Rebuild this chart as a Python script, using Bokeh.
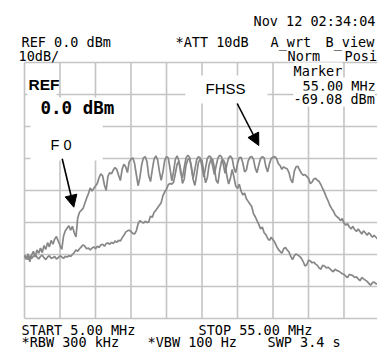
import numpy as np
from bokeh.plotting import figure
from bokeh.models import Range1d, Label, Arrow, NormalHead, BoxAnnotation
from bokeh.embed import file_html
from bokeh.resources import INLINE

# ---------------- data ----------------
freq_start_mhz = 5.0
freq_stop_mhz = 55.0
ref_level_dbm = 0.0
bottom_level_dbm = -80.0
freq_ticks = [5, 10, 15, 20, 25, 30, 35, 40, 45, 50, 55]
level_ticks = [-80, -70, -60, -50, -40, -30, -20, -10, 0]

# sweep points every 0.25 MHz (5.00 ... 55.00)
freq_mhz = np.linspace(freq_start_mhz, freq_stop_mhz, 201)

# wide trace (FHSS)
trace_a_dbm = [
    -60.5, -61.5, -59.8, -62.3, -60.2, -59.0, -60.8, -58.6,
    -59.6, -58.0, -59.4, -57.2, -58.4, -56.3, -57.6, -55.6,
    -56.8, -55.2, -54.4, -55.8, -57.2, -58.4, -54.2, -52.6,
    -51.8, -51.0, -52.4, -51.2, -53.2, -54.5, -48.5, -46.8,
    -46.2, -45.6, -44.0, -42.4, -41.0, -39.2, -40.2, -39.4,
    -38.6, -37.8, -36.0, -34.8, -35.4, -38.2, -40.0, -35.6,
    -34.4, -34.8, -33.6, -32.8, -33.4, -35.2, -36.9, -33.4,
    -31.8, -32.6, -34.4, -31.0, -30.2, -29.8, -31.5, -35.0,
    -38.5, -36.0, -32.0, -29.8, -29.4, -31.0, -35.5, -37.2,
    -33.5, -30.2, -29.2, -30.4, -34.0, -36.8, -34.2, -30.6,
    -29.4, -29.8, -33.2, -37.0, -34.0, -30.2, -29.2, -30.8,
    -34.6, -36.0, -32.8, -29.8, -29.0, -29.6, -33.0, -36.2,
    -33.4, -30.4, -29.4, -29.8, -32.6, -35.8, -33.0, -30.0,
    -29.2, -29.6, -32.4, -35.0, -32.2, -29.8, -29.0, -29.4,
    -31.8, -34.6, -32.0, -29.8, -29.2, -30.0, -33.0, -34.4,
    -31.6, -29.8, -29.6, -31.4, -34.2, -33.6, -30.8, -29.6,
    -29.4, -30.2, -33.0, -34.4, -32.0, -30.0, -29.4, -29.8,
    -32.6, -34.2, -31.6, -30.0, -29.6, -29.4, -30.0, -31.6,
    -32.2, -33.4, -32.6, -33.0, -33.2, -34.4, -36.6, -37.6,
    -34.0, -32.6, -32.4, -33.6, -34.6, -35.2, -35.0, -35.6,
    -36.2, -37.8, -37.4, -36.4, -36.2, -36.8, -37.2, -38.2,
    -39.4, -40.6, -42.0, -43.2, -44.6, -45.6, -46.4, -47.6,
    -48.2, -48.6, -49.4, -48.8, -50.2, -50.8, -50.4, -51.4,
    -52.0, -51.2, -52.2, -52.8, -52.0, -52.8, -53.6, -52.6,
    -53.2, -54.0, -53.2, -53.8, -54.6, -54.0, -54.6, -55.2,
    -54.6,
]

# narrow trace (F 0)
trace_b_dbm = [
    -60.2, -60.8, -61.6, -60.4, -61.2, -60.6, -60.0, -60.8,
    -61.4, -60.6, -60.2, -61.0, -61.6, -60.8, -60.4, -61.2,
    -61.0, -60.6, -61.4, -61.0, -60.4, -60.8, -61.2, -60.6,
    -60.8, -60.4, -60.6, -60.0, -59.4, -58.6, -59.0, -58.2,
    -57.6, -57.0, -57.4, -58.2, -58.0, -58.6, -58.0, -57.6,
    -58.2, -57.4, -57.8, -57.0, -56.8, -57.4, -56.6, -56.4,
    -56.8, -56.2, -56.6, -55.8, -56.2, -55.6, -55.8, -54.8,
    -54.0, -53.0, -52.6, -52.4, -52.8, -53.4, -53.6, -52.6,
    -50.4, -49.4, -49.8, -50.2, -49.6, -50.0, -49.8, -48.0,
    -48.4, -46.8, -46.2, -45.4, -44.6, -43.8, -41.6, -40.4,
    -39.6, -38.2, -37.8, -38.0, -37.4, -34.6, -31.8, -30.8,
    -33.6, -37.8, -36.4, -32.0, -30.4, -30.0, -32.4, -36.6,
    -38.4, -35.0, -31.2, -30.2, -30.6, -34.2, -37.6, -36.0,
    -32.0, -30.4, -30.2, -33.0, -36.8, -37.8, -33.6, -30.8,
    -30.4, -31.6, -35.4, -38.0, -36.2, -33.4, -35.8, -38.6,
    -39.4, -38.0, -40.2, -41.4, -40.8, -42.6, -43.4, -44.2,
    -45.0, -47.2, -48.2, -49.4, -50.6, -52.0, -51.4, -53.2,
    -53.8, -55.0, -55.6, -54.6, -55.4, -56.2, -57.4, -58.4,
    -59.0, -59.6, -58.2, -57.8, -58.6, -59.2, -60.6, -61.6,
    -60.4, -59.8, -60.2, -60.6, -61.2, -62.2, -63.6, -63.2,
    -61.8, -62.0, -62.6, -62.4, -63.0, -63.4, -64.2, -64.6,
    -63.4, -63.6, -64.2, -64.0, -64.4, -65.0, -65.4, -64.6,
    -65.0, -65.2, -65.6, -66.0, -66.2, -66.8, -67.2, -66.2,
    -66.4, -66.6, -67.2, -67.0, -67.6, -68.2, -67.2, -67.6,
    -68.0, -68.4, -69.0, -69.6, -68.8, -68.6, -69.2, -69.0,
    -69.1,
]

# ---------------- layout (pixels) ----------------
W, H = 377, 351
GRID_LEFT, GRID_TOP = 24, 62
GRID_H = 256
PX_PER_MHZ = 7.1
PX_PER_DB = GRID_H / (ref_level_dbm - bottom_level_dbm)


def dx(px):
    return freq_start_mhz + (px - GRID_LEFT) / PX_PER_MHZ


def dy(py):
    return ref_level_dbm - (py - GRID_TOP) / PX_PER_DB


# the frame fills the whole canvas so that no annotation is clipped
p = figure(width=W, height=H, title=None,
           x_range=Range1d(dx(0), dx(W)),
           y_range=Range1d(dy(H), dy(0)),
           x_axis_location=None, y_axis_location=None,
           output_backend="svg", toolbar_location=None,
           min_border=0, min_border_left=0, min_border_right=0,
           min_border_top=0, min_border_bottom=0)
p.background_fill_color = "white"
p.border_fill_color = "white"
p.outline_line_color = None
p.xgrid.visible = False
p.ygrid.visible = False

GRID = "#c4c4c4"
# graticule drawn from the tick lists
p.segment(x0=freq_ticks, y0=[bottom_level_dbm] * len(freq_ticks),
          x1=freq_ticks, y1=[ref_level_dbm] * len(freq_ticks),
          line_color=GRID, line_width=1.6)
p.segment(x0=[freq_start_mhz] * len(level_ticks), y0=level_ticks,
          x1=[freq_stop_mhz] * len(level_ticks), y1=level_ticks,
          line_color=GRID, line_width=1.6)

TRACE = "#878787"
p.line(freq_mhz, trace_b_dbm, line_color=TRACE, line_width=1.7)
p.line(freq_mhz, trace_a_dbm, line_color=TRACE, line_width=1.7)

# white boxes that hide the graticule behind on-screen annotations
for (l, r, t, b) in [(27, 56, 72, 96), (30, 102, 97, 160), (185, 267, 75, 103)]:
    p.add_layout(BoxAnnotation(left=dx(l), right=dx(r), top=dy(t), bottom=dy(b),
                               fill_color="white", fill_alpha=1.0, line_color=None))

MONO = "DejaVu Sans Mono"
SANS = "Liberation Sans"
# (text, left px, baseline px, font, size px, style, white background)
texts = [
    ("Nov 12 02:34:04", 253, 25, MONO, 13.5, "normal", False),
    ("REF 0.0 dBm", 21, 46, MONO, 13.5, "normal", False),
    ("*ATT 10dB", 175, 46, MONO, 13.5, "normal", False),
    ("A_wrt", 270, 46, MONO, 13.5, "normal", False),
    ("B_view", 325, 46, MONO, 13.5, "normal", False),
    ("10dB/", 18, 60, MONO, 13.5, "normal", False),
    ("Norm", 287, 60, MONO, 13.5, "normal", False),
    ("Posi", 344, 60, MONO, 13.5, "normal", False),
    ("Marker", 293, 75, MONO, 13.5, "normal", True),
    ("55.00 MHz", 302, 90, MONO, 13.5, "normal", True),
    ("-69.08 dBm", 293, 103, MONO, 13.5, "normal", True),
    ("REF", 28, 90, SANS, 15.5, "bold", False),
    ("0.0 dBm", 40, 114, MONO, 17.5, "bold", False),
    ("F 0", 50, 150, SANS, 14.5, "normal", False),
    ("FHSS", 205, 94, SANS, 15.0, "normal", False),
    ("START 5.00 MHz", 21, 334, MONO, 13.5, "normal", False),
    ("STOP 55.00 MHz", 198, 334, MONO, 13.5, "normal", False),
    ("*RBW 300 kHz", 21, 346.5, MONO, 13.5, "normal", False),
    ("*VBW 100 Hz", 147, 346.5, MONO, 13.5, "normal", False),
    ("SWP 3.4 s", 267, 346.5, MONO, 13.5, "normal", False),
]
BASELINE_FIX = 0.37  # the rendered baseline sits this many ems below the anchor
for (txt, px, py, font, size, style, bg) in texts:
    lab = Label(x=dx(px), y=dy(py - BASELINE_FIX * size), text=txt, text_font=font,
                text_font_size=f"{size}px",
                text_font_style=style, text_color="black",
                text_align="left", text_baseline="alphabetic")
    if bg:
        lab.background_fill_color = "white"
        lab.background_fill_alpha = 1.0
    p.add_layout(lab)

# arrows
for (x0, y0, x1, y1) in [(61.7, 158.3, 73.3, 206.7), (236.7, 103, 258.3, 145)]:
    p.add_layout(Arrow(x_start=dx(x0), y_start=dy(y0), x_end=dx(x1), y_end=dy(y1),
                       line_color="black", line_width=1.6,
                       end=NormalHead(size=12, fill_color="black", line_color="black")))

open("out.html", "w").write(file_html(p, INLINE))
